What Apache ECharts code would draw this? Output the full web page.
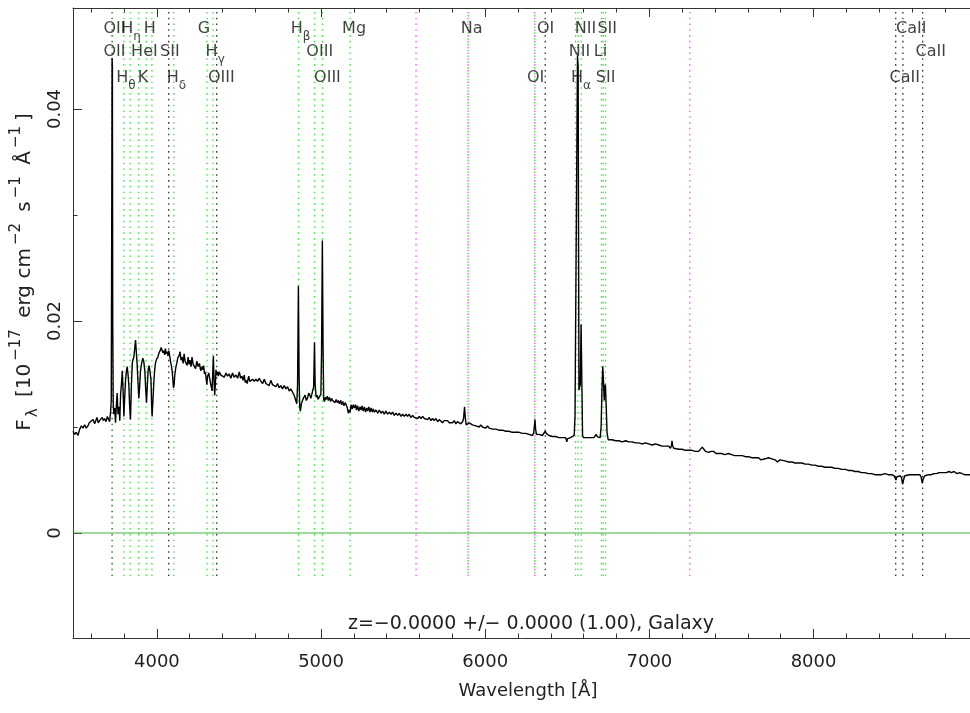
<!DOCTYPE html>
<html><head><meta charset="utf-8">
<script src="https://cdn.jsdelivr.net/npm/echarts@6/dist/echarts.min.js"></script>
<style>html,body{margin:0;padding:0;background:#fff}#c{width:970px;height:713px}</style>
</head><body><div id="c"></div>
<script>
// ---------- data ----------
const spectrum = [
[3489,0.0096],[3499,0.0093],[3509,0.0095],[3519,0.0092],[3530,0.0098],[3540,0.0101],[3550,0.0099],[3560,0.0102],[3570,0.0099],[3580,0.0101],
[3588,0.0104],[3600,0.0103],[3611,0.0107],[3621,0.0103],[3628,0.0106],[3635,0.0109],[3643,0.0104],[3651,0.0106],[3659,0.0105],[3667,0.0109],
[3674,0.0106],[3681,0.0108],[3690,0.0105],[3698,0.0110],[3706,0.0107],[3712,0.0105],[3718,0.0114],[3722,0.0125],[3725,0.0300],[3727,0.0448],
[3729,0.0440],[3731,0.0200],[3734,0.0122],[3738,0.0112],[3743,0.0118],[3748,0.0104],[3753,0.0120],[3758,0.0132],[3763,0.0112],[3769,0.0119],
[3774,0.0106],[3779,0.0131],[3784,0.0140],[3789,0.0153],[3794,0.0135],[3799,0.0110],[3804,0.0128],[3809,0.0144],[3814,0.0152],[3819,0.0157],
[3824,0.0150],[3829,0.0140],[3834,0.0120],[3839,0.0107],[3845,0.0140],[3850,0.0160],[3855,0.0164],[3860,0.0166],[3866,0.0176],[3870,0.0182],
[3875,0.0170],[3880,0.0158],[3885,0.0142],[3890,0.0127],[3895,0.0138],[3900,0.0153],[3907,0.0160],[3914,0.0165],[3920,0.0162],[3927,0.0152],
[3932,0.0135],[3937,0.0123],[3942,0.0140],[3947,0.0154],[3953,0.0158],[3959,0.0159],[3964,0.0145],[3968,0.0120],[3971,0.0110],[3976,0.0125],
[3981,0.0141],[3986,0.0153],[3991,0.0160],[3998,0.0164],[4006,0.0166],[4013,0.0170],[4020,0.0172],[4026,0.0175],[4032,0.0176],[4037,0.0170],
[4042,0.0172],[4047,0.0168],[4052,0.0174],[4057,0.0169],[4062,0.0171],[4068,0.0167],[4073,0.0172],[4078,0.0167],[4083,0.0162],[4088,0.0158],
[4093,0.0153],[4097,0.0145],[4101,0.0137],[4105,0.0140],[4109,0.0149],[4115,0.0156],[4121,0.0160],[4127,0.0165],[4133,0.0166],[4137,0.0168],
[4141,0.0171],[4147,0.0163],[4154,0.0166],[4160,0.0160],[4166,0.0169],[4172,0.0162],[4178,0.0163],[4184,0.0158],[4190,0.0166],[4196,0.0159],
[4202,0.0163],[4208,0.0157],[4214,0.0166],[4221,0.0159],[4228,0.0160],[4236,0.0155],[4243,0.0162],[4251,0.0157],[4259,0.0160],[4267,0.0153],
[4275,0.0157],[4281,0.0154],[4285,0.0158],[4290,0.0150],[4295,0.0152],[4300,0.0146],[4304,0.0140],[4309,0.0148],[4316,0.0151],[4321,0.0146],
[4326,0.0142],[4331,0.0138],[4336,0.0134],[4340,0.0150],[4344,0.0167],[4348,0.0145],[4352,0.0130],[4356,0.0140],[4360,0.0154],[4365,0.0149],
[4370,0.0152],[4375,0.0148],[4380,0.0152],[4390,0.0149],[4401,0.0150],[4410,0.0147],[4421,0.0151],[4430,0.0148],[4441,0.0150],[4450,0.0146],
[4461,0.0151],[4470,0.0147],[4482,0.0149],[4492,0.0146],[4502,0.0152],[4510,0.0146],[4518,0.0148],[4525,0.0144],[4532,0.0149],[4538,0.0142],
[4543,0.0144],[4550,0.0141],[4559,0.0148],[4566,0.0143],[4573,0.0142],[4583,0.0145],[4593,0.0143],[4603,0.0145],[4613,0.0143],[4623,0.0146],
[4634,0.0143],[4644,0.0141],[4654,0.0145],[4664,0.0141],[4674,0.0142],[4684,0.0139],[4694,0.0144],[4704,0.0140],[4715,0.0141],[4725,0.0138],
[4735,0.0141],[4745,0.0137],[4755,0.0139],[4765,0.0136],[4776,0.0139],[4786,0.0136],[4796,0.0138],[4806,0.0134],[4816,0.0136],[4826,0.0133],
[4836,0.0130],[4844,0.0126],[4852,0.0122],[4857,0.0140],[4862,0.0233],[4866,0.0150],[4870,0.0119],[4874,0.0115],[4880,0.0122],[4887,0.0125],
[4895,0.0128],[4903,0.0130],[4910,0.0125],[4917,0.0127],[4925,0.0132],[4932,0.0130],[4938,0.0127],[4944,0.0131],[4950,0.0130],[4955,0.0138],
[4960,0.0180],[4964,0.0140],[4970,0.0128],[4976,0.0130],[4982,0.0126],[4988,0.0128],[4994,0.0127],[4999,0.0131],[5003,0.0170],[5008,0.0276],
[5012,0.0180],[5016,0.0126],[5021,0.0124],[5026,0.0128],[5031,0.0126],[5038,0.0129],[5044,0.0125],[5051,0.0128],[5058,0.0124],[5064,0.0127],
[5071,0.0125],[5078,0.0126],[5085,0.0123],[5092,0.0126],[5099,0.0123],[5106,0.0125],[5112,0.0122],[5120,0.0125],[5126,0.0121],[5132,0.0124],
[5140,0.0120],[5147,0.0123],[5153,0.0121],[5160,0.0118],[5166,0.0113],[5172,0.0116],[5177,0.0114],[5183,0.0121],[5190,0.0117],[5196,0.0121],
[5203,0.0118],[5210,0.0121],[5216,0.0116],[5223,0.0120],[5230,0.0115],[5237,0.0119],[5244,0.0116],[5250,0.0120],[5257,0.0115],[5264,0.0119],
[5271,0.0114],[5278,0.0118],[5284,0.0115],[5291,0.0119],[5298,0.0114],[5305,0.0118],[5312,0.0114],[5318,0.0117],[5325,0.0114],[5335,0.0116],
[5345,0.0113],[5355,0.0116],[5365,0.0113],[5375,0.0115],[5385,0.0112],[5395,0.0115],[5405,0.0112],[5416,0.0114],[5426,0.0112],[5436,0.0114],
[5446,0.0111],[5456,0.0113],[5467,0.0111],[5477,0.0113],[5487,0.0110],[5497,0.0112],[5507,0.0110],[5517,0.0112],[5527,0.0110],[5537,0.0112],
[5547,0.0109],[5558,0.0111],[5568,0.0109],[5578,0.0110],[5588,0.0108],[5598,0.0110],[5608,0.0108],[5619,0.0110],[5629,0.0108],[5639,0.0109],
[5649,0.0107],[5659,0.0109],[5669,0.0106],[5679,0.0108],[5689,0.0106],[5700,0.0108],[5710,0.0105],[5720,0.0107],[5730,0.0106],[5740,0.0104],
[5750,0.0106],[5760,0.0105],[5770,0.0106],[5781,0.0104],[5791,0.0105],[5801,0.0104],[5811,0.0106],[5821,0.0103],[5831,0.0105],[5841,0.0104],
[5851,0.0103],[5862,0.0105],[5868,0.0108],[5874,0.0119],[5879,0.0108],[5884,0.0102],[5890,0.0103],[5896,0.0101],[5902,0.0104],[5912,0.0103],
[5922,0.0102],[5933,0.0103],[5943,0.0101],[5953,0.0102],[5963,0.0100],[5973,0.0102],[5983,0.0100],[5993,0.0101],[6003,0.0099],[6014,0.0101],
[6024,0.0099],[6034,0.0100],[6044,0.0098],[6054,0.0099],[6064,0.0098],[6074,0.0099],[6084,0.0097],[6095,0.0098],[6105,0.0097],[6115,0.0098],
[6125,0.0096],[6135,0.0097],[6145,0.0096],[6155,0.0097],[6165,0.0095],[6176,0.0096],[6186,0.0095],[6196,0.0096],[6206,0.0095],[6216,0.0096],
[6226,0.0094],[6236,0.0095],[6246,0.0094],[6257,0.0095],[6267,0.0093],[6277,0.0094],[6287,0.0092],[6295,0.0094],[6300,0.0102],[6303,0.0107],
[6307,0.0098],[6312,0.0093],[6317,0.0094],[6327,0.0093],[6338,0.0093],[6348,0.0092],[6358,0.0093],[6366,0.0096],[6372,0.0094],[6380,0.0093],
[6388,0.0092],[6398,0.0092],[6409,0.0091],[6419,0.0092],[6429,0.0091],[6439,0.0091],[6449,0.0090],[6459,0.0091],[6469,0.0090],[6479,0.0090],
[6490,0.0090],[6497,0.0086],[6502,0.0089],[6510,0.0090],[6520,0.0090],[6530,0.0091],[6542,0.0092],[6547,0.0110],[6562,0.0450],[6566,0.0440],
[6571,0.0135],[6579,0.0140],[6584,0.0197],[6588,0.0150],[6593,0.0092],[6598,0.0090],[6610,0.0091],[6620,0.0090],[6632,0.0091],[6643,0.0090],
[6652,0.0091],[6662,0.0090],[6670,0.0091],[6676,0.0093],[6682,0.0091],[6692,0.0091],[6700,0.0090],[6706,0.0100],[6712,0.0140],[6716,0.0157],
[6720,0.0145],[6725,0.0125],[6729,0.0138],[6732,0.0140],[6737,0.0120],[6742,0.0095],[6749,0.0088],[6753,0.0088],[6773,0.0088],[6794,0.0087],
[6814,0.0087],[6834,0.0086],[6855,0.0087],[6875,0.0086],[6895,0.0086],[6915,0.0085],[6935,0.0085],[6955,0.0084],[6976,0.0085],[6996,0.0084],
[7016,0.0083],[7037,0.0084],[7057,0.0083],[7077,0.0082],[7097,0.0082],[7108,0.0081],[7118,0.0082],[7128,0.0080],[7134,0.0082],[7138,0.0087],
[7142,0.0082],[7148,0.0080],[7160,0.0080],[7179,0.0079],[7199,0.0079],[7219,0.0078],[7239,0.0078],[7259,0.0078],[7280,0.0077],[7300,0.0077],
[7312,0.0078],[7322,0.0081],[7332,0.0079],[7342,0.0077],[7352,0.0078],[7361,0.0076],[7375,0.0077],[7391,0.0077],[7406,0.0075],[7422,0.0075],
[7440,0.0075],[7460,0.0074],[7482,0.0075],[7500,0.0074],[7520,0.0073],[7543,0.0073],[7565,0.0073],[7585,0.0072],[7604,0.0072],[7625,0.0071],
[7645,0.0071],[7665,0.0071],[7678,0.0069],[7690,0.0070],[7705,0.0070],[7725,0.0071],[7746,0.0070],[7766,0.0069],[7780,0.0067],[7795,0.0069],
[7806,0.0069],[7826,0.0068],[7847,0.0067],[7868,0.0067],[7888,0.0066],[7908,0.0066],[7929,0.0066],[7949,0.0065],[7969,0.0065],[7990,0.0064],
[8010,0.0064],[8029,0.0063],[8050,0.0063],[8070,0.0062],[8090,0.0062],[8110,0.0062],[8131,0.0061],[8151,0.0061],[8171,0.0060],[8192,0.0060],
[8212,0.0059],[8232,0.0059],[8252,0.0058],[8272,0.0058],[8292,0.0057],[8313,0.0057],[8333,0.0056],[8353,0.0056],[8374,0.0055],[8394,0.0055],
[8414,0.0055],[8435,0.0056],[8455,0.0055],[8475,0.0055],[8490,0.0054],[8497,0.0052],[8502,0.0050],[8508,0.0053],[8518,0.0054],[8528,0.0054],
[8536,0.0052],[8542,0.0046],[8548,0.0050],[8556,0.0054],[8566,0.0055],[8586,0.0055],[8607,0.0055],[8627,0.0055],[8647,0.0055],[8655,0.0053],
[8662,0.0047],[8668,0.0051],[8678,0.0054],[8688,0.0055],[8703,0.0055],[8718,0.0055],[8733,0.0056],[8749,0.0056],[8764,0.0057],[8779,0.0057],
[8794,0.0057],[8809,0.0057],[8825,0.0058],[8840,0.0057],[8855,0.0058],[8865,0.0057],[8875,0.0056],[8890,0.0057],[8905,0.0056],[8921,0.0055],
[8941,0.0055],[8953,0.0055]
];

const xMajorTicks = [4000, 5000, 6000, 7000, 8000];
const xMinorTicks = [3600, 3800, 4200, 4400, 4600, 4800, 5200, 5400, 5600, 5800, 6200, 6400, 6600, 6800,
                     7200, 7400, 7600, 7800, 8200, 8400, 8600, 8800];
const yMajorTicks = [0, 0.02, 0.04];
const yMinorTicks = [0.01, 0.03];

// marker lines: wavelength and kind (em = green, abs = black, sky = magenta, oii = dark)
const lineWave = [3727.1, 3799.0, 3836.5, 3889.0, 3934.8, 3969.6, 4072.0, 4102.9, 4305.6, 4341.7, 4364.4,
                  4862.7, 4960.3, 5008.2, 5176.7, 5578.5, 5895.6, 5895.6, 6302.0, 6302.0, 6365.5,
                  6549.9, 6564.6, 6585.3, 6707.9, 6718.3, 6732.7, 7246.0, 8500.4, 8544.4, 8664.5];
const lineKind = ['oii', 'em', 'em', 'em', 'em', 'em', 'abs', 'em', 'em', 'em', 'abs',
                  'em', 'em', 'em', 'em', 'sky', 'sky', 'em2', 'sky', 'em2', 'abs',
                  'em', 'em', 'em', 'em', 'em', 'em', 'sky', 'abs', 'abs', 'abs'];

// line labels: text, anchor wavelength, row
const labelText = ['OII', 'H{s|η}', 'H', 'G', 'H{s|β}', 'Mg', 'Na', 'OI', 'NII', 'SII', 'CaII',
                   'OII', 'HeI', 'SII', 'H{s|γ}', 'OIII', 'NII', 'Li', 'CaII',
                   'H{s|θ}', 'K', 'H{s|δ}', 'OIII', 'OIII', 'OI', 'H{s|α}', 'SII', 'CaII'];
const labelWave = [3742, 3842, 3957, 4287, 4875, 5201, 5917, 6368, 6611, 6743, 8595,
                   3742, 3924, 4079, 4355, 4992, 6574, 6702, 8714,
                   3811, 3916, 4119, 4393, 5039, 6307, 6583, 6733, 8556];
const labelRow = [0, 0, 0, 0, 0, 0, 0, 0, 0, 0, 0,
                  1, 1, 1, 1, 1, 1, 1, 1,
                  2, 2, 2, 2, 2, 2, 2, 2, 2];

const xTitle = 'Wavelength [Å]';
const yTitle = 'F{b|λ} [10{p|−17} erg cm{p|−2} s{p|−1} Å{p|−1}]';
const zText = 'z=−0.0000 +/− 0.0000 (1.00), Galaxy';

// ---------- layout ----------
const X_MIN = 3489, X_MAX = 8953, Y_MIN = -0.009906, Y_MAX = 0.049528;
const ROW_Y = [0.04755, 0.04535, 0.04295];
const MARK_LO = -0.00406, MARK_HI = 0.04915;
const FONT = 'DejaVu Sans';
const AX = '#333';
const kindStyle = {
  em:  {color: '#3de83d', off: 0},
  em2: {color: '#3de83d', off: 3},
  abs: {color: '#333333', off: 0},
  sky: {color: '#ff55ff', off: 0},
  oii: {color: '#2a6a2a', off: 0}
};

const chart = echarts.init(document.getElementById('c'), null, {renderer: 'canvas'});

function xAx(pos, ticks, len, showLine, showLabel) {
  return {
    type: 'value', min: X_MIN, max: X_MAX, position: pos,
    axisLine: {show: showLine, onZero: false, lineStyle: {color: AX, width: 1}},
    axisTick: {show: true, inside: true, length: len, customValues: ticks, lineStyle: {color: AX, width: 1}},
    axisLabel: showLabel ? {show: true, customValues: ticks, margin: 15, fontFamily: FONT, fontSize: 18, color: '#222',
                 formatter: v => String(v)} : {show: false},
    splitLine: {show: false}
  };
}
function yAx(ticks, len, showLine, showLabel) {
  return {
    type: 'value', min: Y_MIN, max: Y_MAX, position: 'left',
    axisLine: {show: showLine, onZero: false, lineStyle: {color: AX, width: 1}},
    axisTick: {show: true, inside: true, length: len, customValues: ticks, lineStyle: {color: AX, width: 1}},
    axisLabel: showLabel ? {show: true, customValues: ticks, rotate: 90, margin: 9, fontFamily: FONT, fontSize: 18, color: '#222',
                 formatter: v => (v === 0 ? '0' : v.toFixed(2))} : {show: false},
    splitLine: {show: false}
  };
}

const series = [];
lineWave.forEach((w, i) => {
  const st = kindStyle[lineKind[i]];
  series.push({
    type: 'line', xAxisIndex: 0, yAxisIndex: 0, silent: true, animation: false,
    showSymbol: false, symbol: 'none',
    data: [[w, MARK_LO], [w, MARK_HI]],
    lineStyle: {color: st.color, width: 1.3, type: [1.6, 4.2], dashOffset: st.off, cap: 'butt'},
    z: 1
  });
});
series.push({
  type: 'line', silent: true, animation: false, symbol: 'none',
  data: [[X_MIN, 0], [X_MAX, 0]],
  lineStyle: {color: '#3cb43c', width: 1}, z: 2
});
series.push({
  type: 'line', silent: true, animation: false, symbol: 'none',
  data: spectrum,
  lineStyle: {color: '#000', width: 1.4}, z: 3
});
series.push({
  type: 'scatter', silent: true, animation: false, symbolSize: 1,
  itemStyle: {color: 'rgba(0,0,0,0)'},
  data: labelWave.map((w, i) => ({value: [w, ROW_Y[labelRow[i]]], label: {formatter: labelText[i]}})),
  label: {
    show: true, position: 'inside', fontFamily: FONT, fontSize: 16, color: '#111', lineHeight: 28,
    rich: {s: {fontFamily: FONT, fontSize: 12, lineHeight: 12, verticalAlign: 'bottom', color: '#111'}}
  },
  z: 5
});

const option = {
  backgroundColor: '#fff',
  animation: false,
  grid: {left: 73, top: 8, right: -2, bottom: 75, containLabel: false},
  xAxis: [
    xAx('bottom', xMajorTicks, 9, true, true),
    xAx('bottom', xMinorTicks, 4.5, false, false),
    xAx('top', xMajorTicks, 9, true, false),
    xAx('top', xMinorTicks, 4.5, false, false)
  ],
  yAxis: [
    yAx(yMajorTicks, 9, true, true),
    yAx(yMinorTicks, 4.5, false, false)
  ],
  series: series,
  graphic: [
    {type: 'text', x: 25, y: 272, rotation: Math.PI / 2, silent: true,
     style: {text: yTitle, fontFamily: FONT, fontSize: 20, fill: '#222', align: 'center', verticalAlign: 'middle', lineHeight: 32,
             rich: {b: {fontFamily: FONT, fontSize: 15, lineHeight: 15, verticalAlign: 'bottom', fill: '#222', padding: [0, 5, 0, 2]},
                    p: {fontFamily: FONT, fontSize: 15, lineHeight: 15, verticalAlign: 'top', fill: '#222', padding: [0, 5, 0, 3]}}}},
    {type: 'text', x: 528, y: 691, silent: true,
     style: {text: xTitle, fontFamily: FONT, fontSize: 18, fill: '#222', align: 'center', verticalAlign: 'middle'}},
    {type: 'text', x: 531, y: 624, silent: true,
     style: {text: zText, fontFamily: FONT, fontSize: 19, fill: '#222', align: 'center', verticalAlign: 'middle'}}
  ]
};
chart.setOption(option);
</script>
</body></html>
